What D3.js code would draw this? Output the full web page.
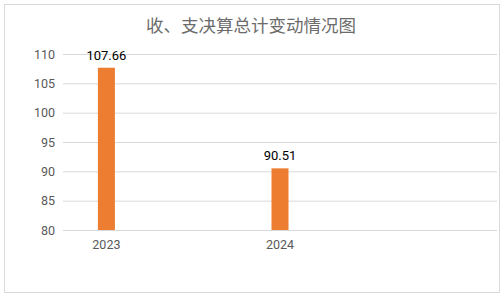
<!DOCTYPE html>
<html>
<head>
    <meta charset="utf-8">
    <script src="https://cdnjs.cloudflare.com/ajax/libs/d3/7.8.5/d3.min.js"></script>
    <style>
        body { margin: 0; background: #fff; }
        text { font-family: "Liberation Sans Narrow", "Roboto", sans-serif; }
    </style>
</head>
<body>
    <div id="chart"></div>
    <script>
        var title = "收、支决算总计变动情况图";
        var categories = ["2023", "2024"];
        var categorySlots = [0, 2];   // chart has 5 category slots, last ones empty
        var slotCount = 5;
        var values = [107.66, 90.51];
        var yTicks = [80, 85, 90, 95, 100, 105, 110];

        var width = 504, height = 296;
        var margin = { top: 54, right: 7, bottom: 66, left: 63 };
        var plotW = width - margin.left - margin.right;
        var plotH = height - margin.top - margin.bottom;

        var svg = d3.select("#chart").append("svg")
            .attr("width", width)
            .attr("height", height);

        svg.append("rect")
            .attr("x", 4.5).attr("y", 4.5)
            .attr("width", 495).attr("height", 288)
            .attr("fill", "#fff")
            .attr("stroke", "#d9d9d9");

        svg.append("text")
            .attr("x", 251)
            .attr("y", 32)
            .attr("text-anchor", "middle")
            .style("font-family", "'Noto Sans CJK SC', sans-serif")
            .style("font-size", "17.5px")
            .attr("fill", "#6b6b6b")
            .text(title);

        var g = svg.append("g")
            .attr("transform", "translate(" + margin.left + "," + margin.top + ")");

        var x = d3.scaleBand().domain(d3.range(slotCount)).range([0, plotW]);
        var y = d3.scaleLinear().domain([80, 110]).range([plotH, 0]);

        // gridlines + y labels
        var yAxis = g.append("g")
            .call(d3.axisLeft(y).tickValues(yTicks).tickSize(-plotW).tickPadding(8));
        yAxis.select(".domain").remove();
        yAxis.selectAll("line").attr("stroke", "#d9d9d9");
        yAxis.selectAll("text")
            .attr("fill", "#595959")
            .style("font-size", "12.5px");

        var barW = 17;
        g.selectAll(".bar")
            .data(values)
            .enter().append("rect")
            .attr("class", "bar")
            .attr("x", function (d, i) { return x(categorySlots[i]) + x.bandwidth() / 2 - barW / 2; })
            .attr("y", function (d) { return y(d); })
            .attr("width", barW)
            .attr("height", function (d) { return plotH - y(d); })
            .attr("fill", "#ed7d31");

        g.selectAll(".lbl")
            .data(values)
            .enter().append("text")
            .attr("class", "lbl")
            .attr("x", function (d, i) { return x(categorySlots[i]) + x.bandwidth() / 2; })
            .attr("y", function (d) { return y(d) - 8; })
            .attr("text-anchor", "middle")
            .style("font-size", "13px")
            .attr("fill", "#000")
            .text(function (d) { return d.toFixed(2); });

        // x axis
        g.append("line")
            .attr("x1", 0).attr("x2", plotW)
            .attr("y1", plotH + 0.5).attr("y2", plotH + 0.5)
            .attr("stroke", "#d9d9d9");

        g.selectAll(".xl")
            .data(categories)
            .enter().append("text")
            .attr("class", "xl")
            .attr("x", function (d, i) { return x(categorySlots[i]) + x.bandwidth() / 2; })
            .attr("y", plotH + 19)
            .attr("text-anchor", "middle")
            .style("font-size", "12.5px")
            .attr("fill", "#595959")
            .text(function (d) { return d; });
    </script>
</body>
</html>
